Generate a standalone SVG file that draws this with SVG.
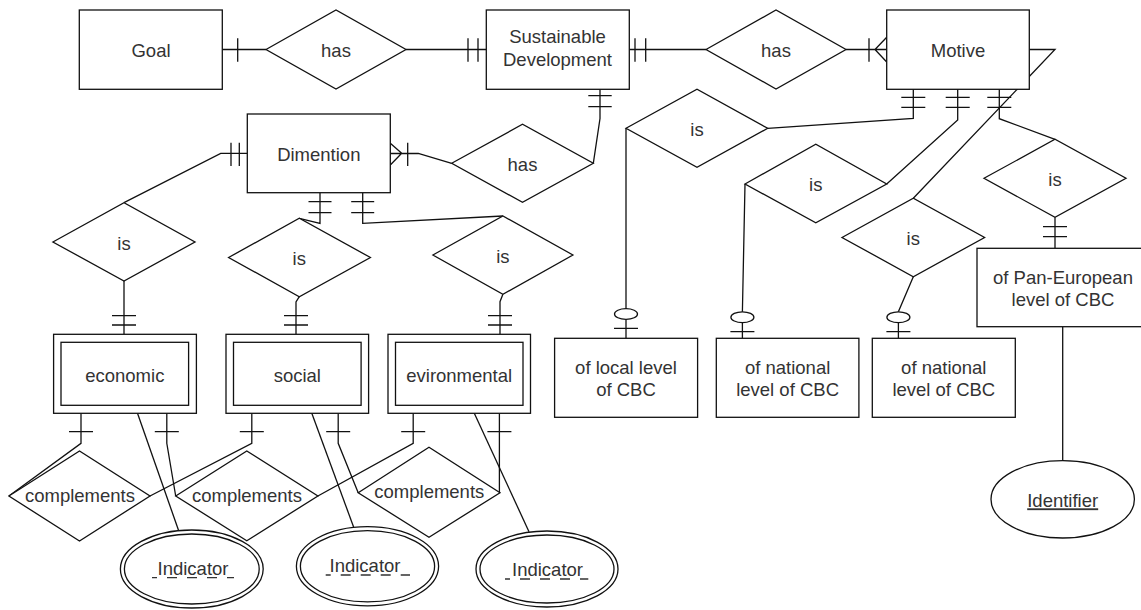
<svg xmlns="http://www.w3.org/2000/svg" width="1141" height="610" viewBox="0 0 1141 610">
<style>
.ln{fill:none;stroke:#111;stroke-width:1.3}
.nd{fill:#fff;stroke:#111;stroke-width:1.3}
.t{font-family:"Liberation Sans",Arial,sans-serif;font-size:18.5px;fill:#333;text-anchor:middle}
.dash{fill:none;stroke:#333;stroke-width:1.3;stroke-dasharray:10 10}
</style>
<rect width="1141" height="610" fill="#fff"/>
<g id="connectors" class="ln">
  <path d="M222.3,49.5H266M237.7,38.3V61.7"/>
  <path d="M406,49.5H486.3M468,38.3V61.7M478,38.3V61.7"/>
  <path d="M629.3,49.5H706M635,38.3V61.7M645.7,38.3V61.7"/>
  <path d="M846,49.5H886.7M869,38.3V61.7M875,49.5L886.7,37.3M875,49.5L886.7,62"/>
  <path d="M1029.3,49.5H1055L913.3,198.3"/>
  <path d="M600,89.3V118.5L593.3,163.3M588.3,95.7H611.7M588.3,106.7H611.7"/>
  <path d="M451.7,163.3L418.3,153.5H390.3M407.7,142.7V166M401.7,153.3L390.3,143.3M401.7,153.3L390.3,165"/>
  <path d="M247.3,153.3H220.7L124,202.7M231,142.7V166M239.3,142.7V166"/>
  <path d="M320,192.7V223.3L299.3,218.3M308.5,201.7H331.5M308.5,212.7H331.5"/>
  <path d="M362.7,192.7V223.3L502.9,216M351.2,201.7H374.2M351.2,212.7H374.2"/>
  <path d="M124,281V334.3M112,315.7H136M112,325H136"/>
  <path d="M299.3,296.7L296,302V334.3M284,315.7H308M284,325H308"/>
  <path d="M502.9,294.3L500,301.7V334.3M488,315.7H512M488,325H512"/>
  <path d="M913.3,89.3V118.3L767.7,128.3M901.3,97.3H925.3M901.3,107.3H925.3"/>
  <path d="M957.7,89.3V120L886.7,184M945.7,97.3H969.7M945.7,107.3H969.7"/>
  <path d="M999.3,89.3V118.7L1055,139.3M987.3,97.3H1011.3M987.3,107.3H1011.3"/>
  <path d="M626,128.3V338.3M614,328.3H638"/>
  <ellipse cx="626" cy="314" rx="11.5" ry="5.3" fill="#fff"/>
  <path d="M745,184L742.4,311.5V338.3M730.4,331.7H754.4"/>
  <ellipse cx="742.4" cy="317.2" rx="11.5" ry="5.4" fill="#fff"/>
  <path d="M913.3,276.7L898.4,311.7V338.3M886.4,331.7H910.4"/>
  <ellipse cx="898.4" cy="317.2" rx="11.5" ry="5.4" fill="#fff"/>
  <path d="M1055,217.3V248.3M1043,226.7H1067M1043,236.7H1067"/>
  <path d="M1062.7,326.7V460.7"/>
  <path d="M81,413.3V443.3L8.9,496M69,431.7H93"/>
  <path d="M166.8,413.3V443.3L175.7,496M154.8,431.7H178.8"/>
  <path d="M251.8,413.3V443.3L150,496M239.8,431.7H263.8"/>
  <path d="M338.2,413.3V443.3L358.2,492.7M326.2,431.7H350.2"/>
  <path d="M413.2,413.3V443.3L317.9,496M401.2,431.7H425.2"/>
  <path d="M499.4,413.3V492.7M487.4,431.7H511.4"/>
  <path d="M137.5,413.3L178.6,530.5"/>
  <path d="M311.8,413.3L353.6,527"/>
  <path d="M474.3,413.3L529,531.7"/>
</g>
<g id="goal"><rect class="nd" x="79.3" y="10" width="143" height="79.3"/><text class="t" x="151" y="57.3">Goal</text></g>
<g id="has1"><polygon class="nd" points="266,49.5 336,10 406,49.5 336,89"/><text class="t" x="336" y="57.3">has</text></g>
<g id="sustainable-development"><rect class="nd" x="486.3" y="10" width="143" height="79.3"/><text class="t" x="557.5" y="42.5">Sustainable</text><text class="t" x="557.5" y="65.5">Development</text></g>
<g id="has2"><polygon class="nd" points="706,49.5 776,10 846,49.5 776,89"/><text class="t" x="776" y="57.3">has</text></g>
<g id="motive"><rect class="nd" x="886.7" y="10" width="142.6" height="79.3"/><text class="t" x="958" y="57.3">Motive</text></g>
<g id="dimention"><rect class="nd" x="247.3" y="114" width="143" height="78.7"/><text class="t" x="318.8" y="161">Dimention</text></g>
<g id="has3"><polygon class="nd" points="451.7,163.3 522.5,124.3 593.3,163.3 522.5,202.3"/><text class="t" x="522.5" y="171">has</text></g>
<g id="is-economic"><polygon class="nd" points="52.9,242 124,202.7 195,242 124,281"/><text class="t" x="124" y="250">is</text></g>
<g id="is-social"><polygon class="nd" points="228.6,257.5 299.3,218.3 370.4,257.5 299.3,296.7"/><text class="t" x="299.3" y="265">is</text></g>
<g id="is-environmental"><polygon class="nd" points="432.9,255 502.9,216 572.9,255 502.9,294.3"/><text class="t" x="502.9" y="263">is</text></g>
<g id="is-local"><polygon class="nd" points="626,128.3 697,89.3 767.7,128.3 697,167.3"/><text class="t" x="697" y="135.7">is</text></g>
<g id="is-national1"><polygon class="nd" points="745,184 815.8,144.3 886.7,184 815.8,222.7"/><text class="t" x="815.8" y="191">is</text></g>
<g id="is-national2"><polygon class="nd" points="842,237.5 913.3,198.3 984.6,237.5 913.3,276.7"/><text class="t" x="913.3" y="245">is</text></g>
<g id="is-paneuropean"><polygon class="nd" points="984,178.3 1055,139.3 1126,178.3 1055,217.3"/><text class="t" x="1055" y="185.7">is</text></g>
<g id="economic"><rect class="nd" x="53.6" y="334.3" width="142.8" height="79"/><rect class="nd" x="61" y="342.3" width="127.6" height="63"/><text class="t" x="124.8" y="382.3">economic</text></g>
<g id="social"><rect class="nd" x="226" y="334.3" width="142.6" height="79"/><rect class="nd" x="233.5" y="342.3" width="127.6" height="63"/><text class="t" x="297.3" y="382.3">social</text></g>
<g id="evironmental"><rect class="nd" x="388" y="334.3" width="142.5" height="79"/><rect class="nd" x="395.5" y="342.3" width="127.5" height="63"/><text class="t" x="459.2" y="382.3">evironmental</text></g>
<g id="local-level"><rect class="nd" x="554.6" y="338.3" width="143" height="79"/><text class="t" x="626" y="373.5">of local level</text><text class="t" x="626" y="395.5">of CBC</text></g>
<g id="national-level1"><rect class="nd" x="716.3" y="338.3" width="142.6" height="79"/><text class="t" x="787.6" y="373.5">of national</text><text class="t" x="787.6" y="395.5">level of CBC</text></g>
<g id="national-level2"><rect class="nd" x="872.3" y="338.3" width="143" height="79"/><text class="t" x="943.8" y="373.5">of national</text><text class="t" x="943.8" y="395.5">level of CBC</text></g>
<g id="paneuropean-level"><rect class="nd" x="977" y="248.3" width="172" height="78.4"/><text class="t" x="1063" y="284">of Pan-European</text><text class="t" x="1063" y="306">level of CBC</text></g>
<g id="complements1"><polygon class="nd" points="8.9,496 79.5,451 150,496 79.5,541"/><text class="t" x="80" y="502">complements</text></g>
<g id="complements2"><polygon class="nd" points="175.7,496 246.8,451 317.9,496 246.8,540.7"/><text class="t" x="247" y="502">complements</text></g>
<g id="complements3"><polygon class="nd" points="358.2,492.7 429,447.3 500,492.7 429,537.3"/><text class="t" x="429.3" y="498">complements</text></g>
<g id="indicator1"><ellipse class="nd" cx="191.8" cy="569" rx="71.4" ry="39"/><ellipse class="nd" cx="191.8" cy="569" rx="67.4" ry="35"/><text class="t" x="193" y="575">Indicator</text><line class="dash" x1="152" y1="577.7" x2="234" y2="577.7" stroke-dashoffset="5"/></g>
<g id="indicator2"><ellipse class="nd" cx="367.5" cy="566.3" rx="71.1" ry="39.6"/><ellipse class="nd" cx="367.5" cy="566.3" rx="67.1" ry="35.6"/><text class="t" x="365" y="571.7">Indicator</text><line class="dash" x1="325.7" y1="575" x2="410" y2="575" stroke-dashoffset="5"/></g>
<g id="indicator3"><ellipse class="nd" cx="547" cy="569" rx="71" ry="38"/><ellipse class="nd" cx="547" cy="569" rx="67" ry="34"/><text class="t" x="547.5" y="575.5">Indicator</text><line class="dash" x1="505" y1="579" x2="588.3" y2="579" stroke-dashoffset="5"/></g>
<g id="identifier"><ellipse class="nd" cx="1062.7" cy="499.3" rx="71.7" ry="38.7"/><text class="t" x="1062.7" y="507.3" text-decoration="underline">Identifier</text></g>
</svg>
